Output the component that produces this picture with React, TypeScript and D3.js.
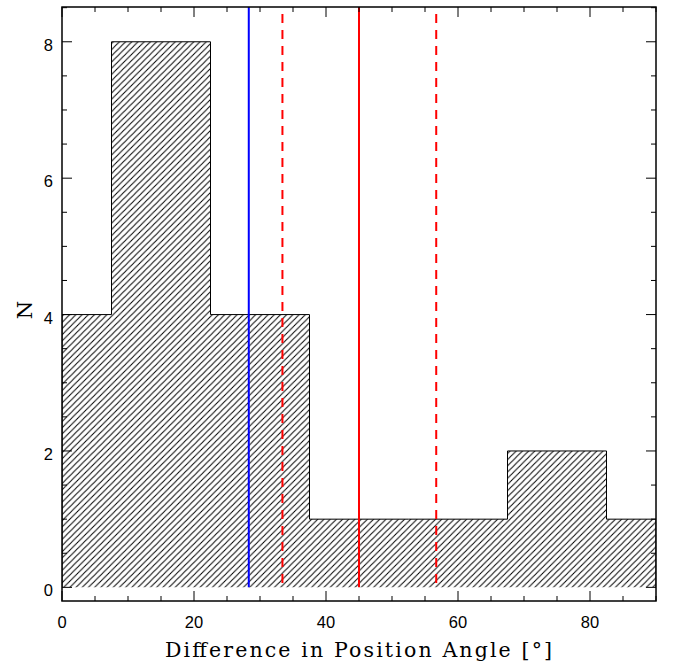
import React from "react";
import * as d3 from "d3";

const binEdges = [0, 7.5, 22.5, 37.5, 52.5, 67.5, 82.5, 90];
const binCounts = [4, 8, 4, 1, 1, 2, 1];
const xMajorTicks = [0, 20, 40, 60, 80];
const yMajorTicks = [0, 2, 4, 6, 8];
const blueLine = [28.3];
const redSolid = [45.0];
const redDashed = [33.4, 56.7];

const W = 675, H = 666;
const L = 62, R = 656, T = 7, B = 601;

export default function App() {
  const x = d3.scaleLinear().domain([0, 90]).range([L, R]);
  const y = d3.scaleLinear().domain([-0.2, 8.51]).range([B, T]);
  const xMinor = d3.range(0, 90.01, 5);
  const yMinor = d3.range(0, 8.51, 0.5);

  const outline: [number, number][] = [[x(binEdges[0]), y(0)]];
  binCounts.forEach((c, i) => {
    outline.push([x(binEdges[i]), y(c)]);
    outline.push([x(binEdges[i + 1]), y(c)]);
  });
  outline.push([x(binEdges[binEdges.length - 1]), y(0)]);
  const outlinePath = d3.line()(outline)!;

  const tickCol = "#000";
  const sans = "Liberation Sans, Arial, sans-serif";
  const hs = 6.2;
  return (
    <svg width={W} height={H} style={{ position: "absolute", left: 0, top: 0 }}>
      <defs>
        <pattern id="hatch" patternUnits="userSpaceOnUse" width={hs} height={hs}>
          <path d={`M-1,${hs + 1} L${hs + 1},-1 M-1,1 L1,-1 M${hs - 1},${hs + 1} L${hs + 1},${hs - 1}`} stroke="#000" strokeWidth={1} />
        </pattern>
        <clipPath id="clip"><rect x={L} y={T} width={R - L} height={B - T} /></clipPath>
      </defs>
      <rect width={W} height={H} fill="#fff" />
      <g clipPath="url(#clip)">
        <path d={outlinePath + "Z"} fill="url(#hatch)" stroke="none" />
        <path d={outlinePath} fill="none" stroke="#000" strokeWidth={1} />
      </g>
      {blueLine.map((v, i) => (
        <line key={"b" + i} x1={x(v)} x2={x(v)} y1={T} y2={y(0)} stroke="#0000ff" strokeWidth={2} />
      ))}
      {redSolid.map((v, i) => (
        <line key={"r" + i} x1={x(v)} x2={x(v)} y1={T} y2={y(0)} stroke="#ff0000" strokeWidth={2} />
      ))}
      {redDashed.map((v, i) => (
        <line key={"d" + i} x1={x(v)} x2={x(v)} y1={T + 7} y2={y(0)} stroke="#ff0000" strokeWidth={2} strokeDasharray="9,7" />
      ))}
      {xMinor.map((v) => {
        const major = v % 20 === 0;
        const len = major ? 10 : 5;
        return (
          <g key={"xt" + v}>
            <line x1={x(v)} x2={x(v)} y1={B} y2={B - len} stroke={tickCol} strokeWidth={1} />
            <line x1={x(v)} x2={x(v)} y1={T} y2={T + len} stroke={tickCol} strokeWidth={1} />
          </g>
        );
      })}
      {yMinor.map((v) => {
        const major = v % 2 === 0;
        const len = major ? 10 : 5;
        return (
          <g key={"yt" + v}>
            <line x1={L} x2={L + len} y1={y(v)} y2={y(v)} stroke={tickCol} strokeWidth={1} />
            <line x1={R} x2={R - len} y1={y(v)} y2={y(v)} stroke={tickCol} strokeWidth={1} />
          </g>
        );
      })}
      <rect x={L} y={T} width={R - L} height={B - T} fill="none" stroke="#000" strokeWidth={1.5} />
      {xMajorTicks.map((v) => (
        <text key={"xl" + v} x={x(v)} y={628} textAnchor="middle" fontFamily={sans} fontSize={16.5}>{v}</text>
      ))}
      {yMajorTicks.map((v) => (
        <text key={"yl" + v} x={53} y={y(v) + 9} textAnchor="end" fontFamily={sans} fontSize={16.5}>{v}</text>
      ))}
      <text x={165} y={657} fontFamily="DejaVu Serif, serif" fontSize={20.5} textLength={387} lengthAdjust="spacing">Difference in Position Angle [°]</text>
      <text transform="translate(32,310) rotate(-90)" textAnchor="middle" fontFamily="DejaVu Serif, serif" fontSize={21}>N</text>
    </svg>
  );
}
